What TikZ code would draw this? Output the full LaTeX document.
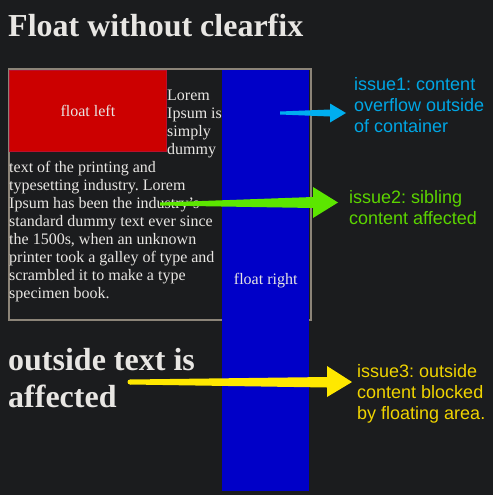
\documentclass[tikz,border=0pt]{standalone}
\usepackage{fontspec}
\setmainfont{Liberation Serif}
\newfontfamily\issuefont{Liberation Sans}
\frenchspacing
\definecolor{bg}{HTML}{1B1C1E}
\definecolor{fg}{HTML}{E8E6E3}
\definecolor{boxline}{HTML}{8C8478}
\definecolor{redbox}{HTML}{CC0000}
\definecolor{rededge}{HTML}{B8102E}
\definecolor{bluebox}{HTML}{0000C8}
\definecolor{cyanA}{HTML}{00AEEF}
\definecolor{greenA}{HTML}{5CE600}
\definecolor{yellowA}{HTML}{FFE800}
\definecolor{cyanT}{HTML}{00A6E4}
\definecolor{greenT}{HTML}{5CD400}
\definecolor{yellowT}{HTML}{F0D400}
\begin{document}
\begin{tikzpicture}[x=1pt,y=-1pt,
  txt/.style={anchor=base west, inner sep=0, text=fg},
  body/.style={txt, font=\frenchspacing\fontsize{16}{18}\selectfont},
  big/.style={txt, font=\frenchspacing\bfseries\fontsize{32}{36}\selectfont},
  issue/.style={anchor=base west, inner sep=0, font=\frenchspacing\issuefont\fontsize{18}{21}\selectfont},
  floatbox/.style={anchor=north west, inner sep=0, text=fg, font=\fontsize{16}{18}\selectfont}]
\fill[bg] (0,0) rectangle (493,495);
\useasboundingbox (0,0) rectangle (493,495);
% title
\node[big] (title) at (8,37) {Float without clearfix};
% container
\node[draw=boxline, line width=2pt, anchor=north west, inner sep=0,
      minimum width=302pt, minimum height=251pt] (container) at (8,68) {};
% floats
\node[floatbox, fill=redbox, draw=rededge, line width=0.8pt,
      minimum width=157pt, minimum height=81pt] (floatleft) at (9,70) {float left};
\node[floatbox, fill=bluebox, minimum width=87pt, minimum height=421pt] (floatright) at (222,70) {float right};
% wrapped text beside the left float
\foreach \t [count=\i] in {Lorem, Ipsum is, simply, dummy}
  \node[body] (s\i) at (167,{82+18*\i}) {\t};
% text below the left float
\foreach \t [count=\i] in {{text of the printing and},
  {typesetting industry. Lorem},
  {Ipsum has been the industry's},
  {standard dummy text ever since},
  {the 1500s, when an unknown},
  {printer took a galley of type and},
  {scrambled it to make a type},
  {specimen book.}}
  \node[body] (b\i) at (9,{154+18*\i}) {\t};
% outside text
\node[big] (out1) at (8,370) {outside text is};
\node[big] (out2) at (8,407) {affected};
% issue labels
\node[issue, text=cyanT] (i1a) at (354,90) {issue1: content};
\node[issue, text=cyanT] (i1b) at (354,111) {overflow outside};
\node[issue, text=cyanT] (i1c) at (354,132) {of container};
\node[issue, text=greenT] (i2a) at (349,203) {issue2: sibling};
\node[issue, text=greenT] (i2b) at (349,224) {content affected};
\node[issue, text=yellowT] (i3a) at (357,377) {issue3: outside};
\node[issue, text=yellowT] (i3b) at (357,398) {content blocked};
\node[issue, text=yellowT] (i3c) at (357,419) {by floating area.};
% arrows (tapered)
\fill[cyanA] (280,111.5) -- (330,109.5) -- (330,103.5) -- (346,113) -- (330,122.5) -- (330,116.5) -- (280,114.5) -- cycle;
\fill[greenA] (160,202.5) -- (313,197) -- (313,187) -- (338,202.5) -- (313,218) -- (313,208) -- (160,205.5) -- cycle;
\fill[yellowA] (130,379.5) -- (327,377) -- (327,366) -- (352,382) -- (327,397) -- (327,387.5) -- (130,384.5) -- cycle;
\fill[yellowA] (130,382) circle (2.5);
\end{tikzpicture}
\end{document}
